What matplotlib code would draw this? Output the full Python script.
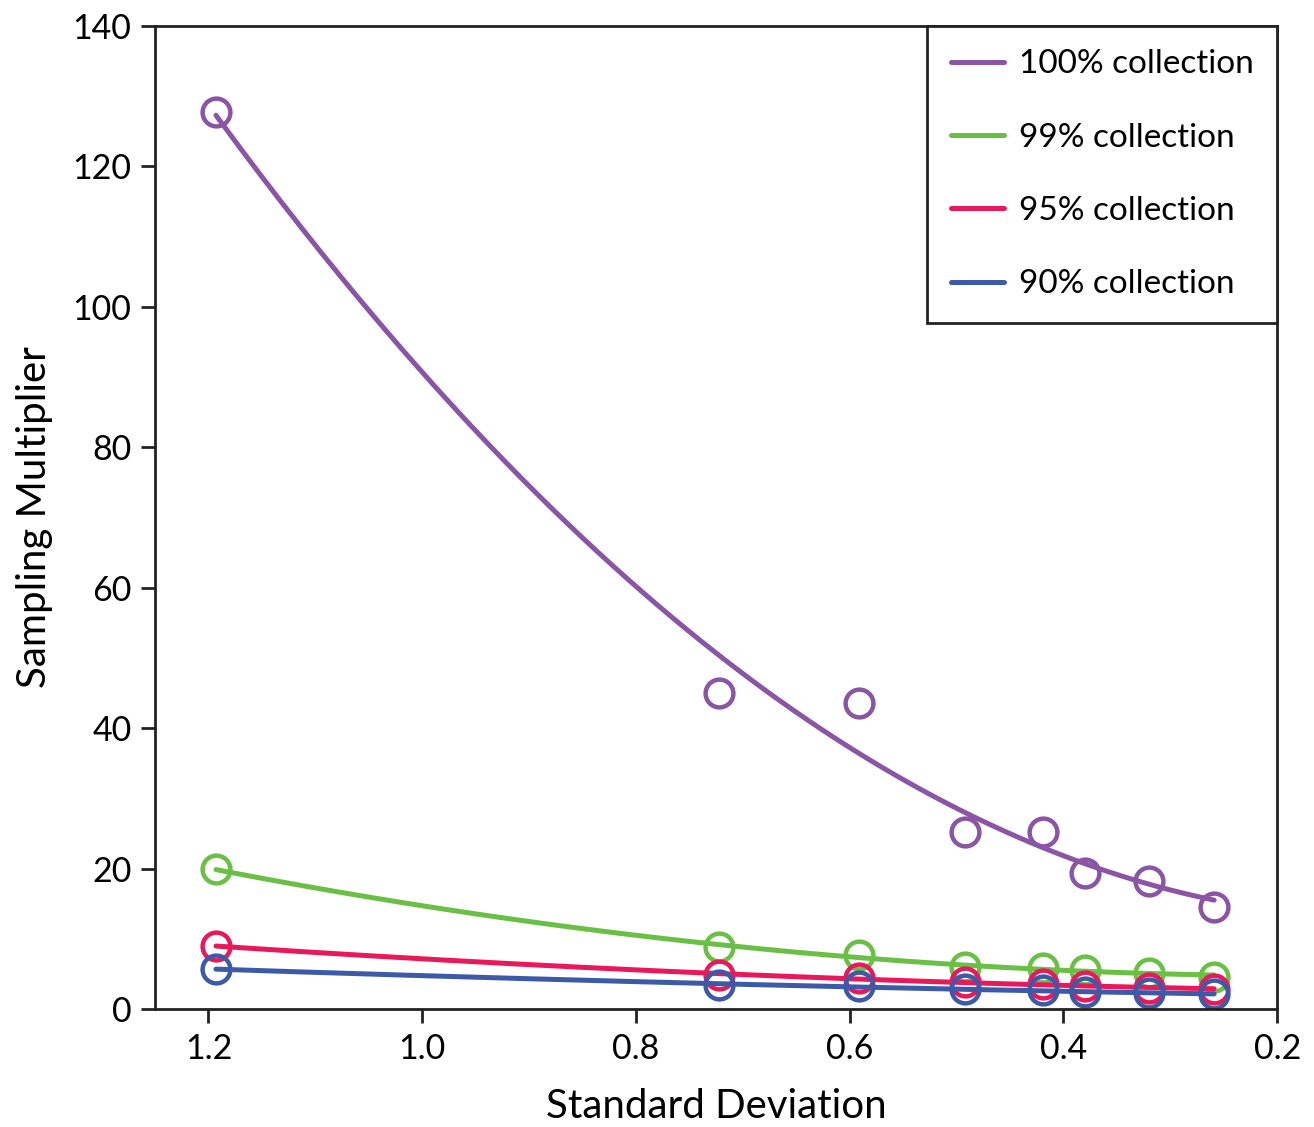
import matplotlib
matplotlib.use("Agg")
import matplotlib.pyplot as plt
import numpy as np

plt.rcParams['font.family'] = ['Lato', 'DejaVu Sans']

# standard deviation of each sample set
std_dev = [1.193, 0.722, 0.591, 0.492, 0.419, 0.380, 0.320, 0.259]

# sampling multiplier per collection level
mult_100 = [127.8, 45.0, 43.6, 25.2, 25.2, 19.4, 18.2, 14.5]
mult_99 = [19.9, 8.8, 7.7, 6.0, 5.8, 5.6, 5.1, 4.6]
mult_95 = [9.0, 4.8, 4.4, 3.8, 3.6, 3.3, 3.0, 2.8]
mult_90 = [5.7, 3.4, 3.3, 2.8, 2.7, 2.4, 2.3, 2.1]

labels = ['100% collection', '99% collection', '95% collection', '90% collection']
colors = ['#8a55a5', '#6abf45', '#e8185a', '#3d5aa8']

fig = plt.figure(figsize=(13.14, 11.27), dpi=100)
ax = fig.add_axes([0.118, 0.1047, 0.854, 0.8723])

x = np.array(std_dev)
xs = np.linspace(x.min(), x.max(), 200)
for ys, lab, c in zip([mult_100, mult_99, mult_95, mult_90], labels, colors):
    # trendline fitted to the points
    coef = np.polyfit(x, ys, 2)
    ax.plot(xs, np.polyval(coef, xs), color=c, lw=3.6, label=lab, solid_capstyle='round')
    ax.plot(x, ys, 'o', mfc='none', mec=c, mew=3.2, ms=20)

ax.set_xlim(1.25, 0.2)
ax.set_ylim(0, 140)
ax.set_xticks([1.2, 1.0, 0.8, 0.6, 0.4, 0.2])
ax.set_xticklabels(['1.2', '1.0', '0.8', '0.6', '0.4', '0.2'])
ax.set_yticks(range(0, 141, 20))
ax.tick_params(labelsize=24.5, width=2, length=10, color='#222222', pad=7)
for s in ax.spines.values():
    s.set_linewidth(2)
    s.set_color('#222222')

ax.set_xlabel('Standard Deviation', fontsize=29, labelpad=17)
ax.set_ylabel('Sampling Multiplier', fontsize=29, labelpad=14)

leg = ax.legend(loc='upper right', fontsize=24, frameon=True, fancybox=False,
                borderaxespad=0, handlelength=1.6, labelspacing=1.3,
                borderpad=0.7, handletextpad=0.45)
leg.get_frame().set_edgecolor('#222222')
leg.get_frame().set_linewidth(2)
leg.get_frame().set_alpha(1)

fig.savefig('out.png', dpi=100)
